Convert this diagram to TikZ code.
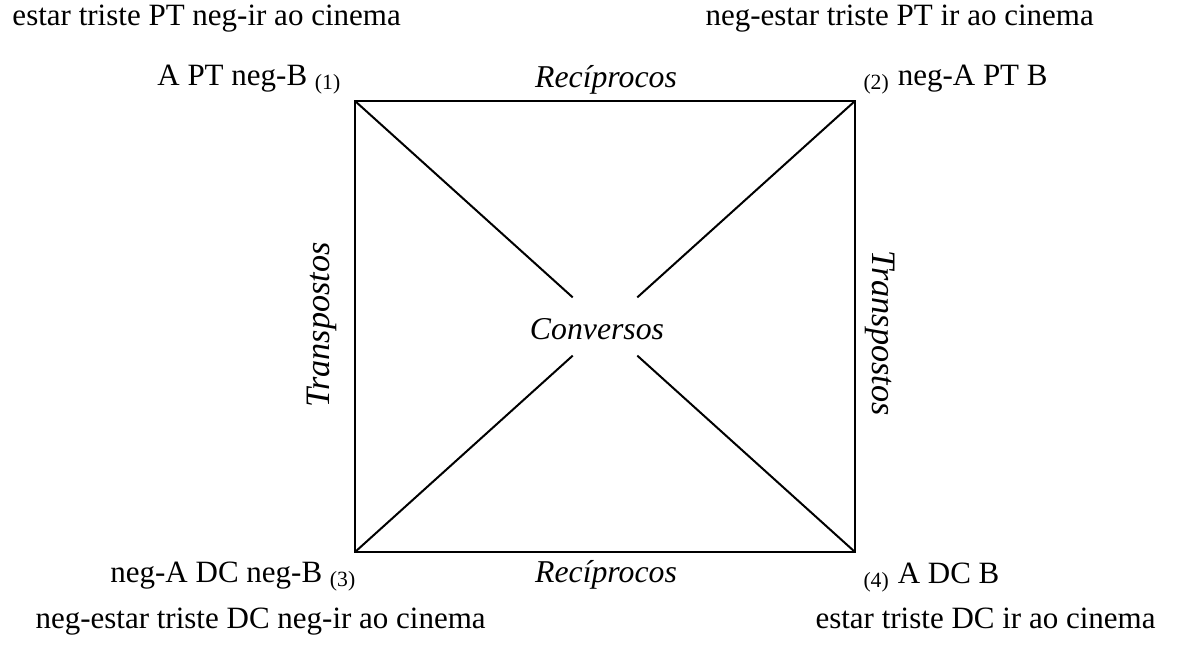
\documentclass[tikz,border=0pt]{standalone}
\usepackage{fontspec}
\setmainfont{Liberation Serif}
\usetikzlibrary{positioning}

\tikzset{
  lbl/.style={inner sep=0pt, font=\fontsize{12.4}{15}\selectfont},
  rel/.style={inner sep=0pt, font=\fontsize{12.7}{15}\selectfont\itshape},
  relv/.style={inner sep=0pt, font=\fontsize{13.7}{16}\selectfont\itshape},
  side/.style={line width=0.8pt},
}

\begin{document}
\begin{tikzpicture}[x=0.4pt, y=-0.4pt]
  \useasboundingbox (0,0) rectangle (1178,648);
  % corners of the square
  \coordinate (c1) at (355,101);
  \coordinate (c2) at (855,101);
  \coordinate (c3) at (355,552);
  \coordinate (c4) at (855,552);
  \coordinate (mid) at (605,326.5);
  \draw[side] (c1) -- (c2) -- (c4) -- (c3) -- cycle;
  \foreach \c in {c1,c2,c3,c4}
    \draw[side, shorten >=17.4pt] (\c) -- (mid);
  % corner labels
  \node[lbl, anchor=base east] (n1) at (342,85) {A PT neg-B \textsubscript{(1)}};
  \node[lbl, anchor=base west] (n2) at (863,85) {\textsubscript{(2)} neg-A PT B};
  \node[lbl, anchor=base east] (n3) at (357,582) {neg-A DC neg-B \textsubscript{(3)}};
  \node[lbl, anchor=base west] (n4) at (863,583) {\textsubscript{(4)} A DC B};
  % sentences
  \node[lbl, anchor=base west] (s1) at (12,25) {estar triste PT neg-ir ao cinema};
  \node[lbl, anchor=base west] (s2) at (705,25) {neg-estar triste PT ir ao cinema};
  \node[lbl, anchor=base west] (s3) at (35,628) {neg-estar triste DC neg-ir ao cinema};
  \node[lbl, anchor=base west] (s4) at (815,628) {estar triste DC ir ao cinema};
  % relations
  \node[rel, anchor=base] (rtop) at (606,87) {Recíprocos};
  \node[rel, anchor=base] (rbot) at (606,582) {Recíprocos};
  \node[relv, rotate=90] (tleft) at (322,325) {Transpostos};
  \node[relv, rotate=-90] (tright) at (880,333) {Transpostos};
  \node[rel, anchor=base] (conv) at (597,339) {Conversos};
\end{tikzpicture}
\end{document}
